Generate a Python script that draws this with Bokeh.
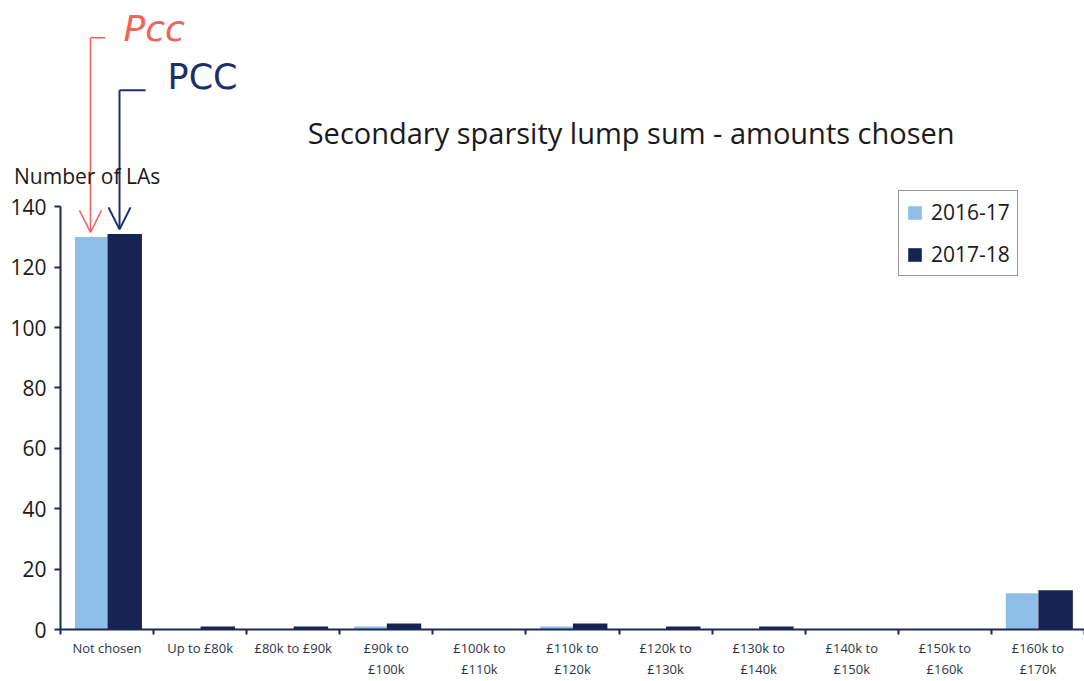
from bokeh.plotting import figure
from bokeh.models import Range1d, FixedTicker, Label, Arrow, OpenHead, ColumnDataSource, Div
from bokeh.layouts import column
from bokeh.transform import dodge
from bokeh.embed import file_html
from bokeh.resources import INLINE

categories = ["Not chosen", "Up to £80k", "£80k to £90k", "£90k to\n£100k", "£100k to\n£110k",
              "£110k to\n£120k", "£120k to\n£130k", "£130k to\n£140k", "£140k to\n£150k",
              "£150k to\n£160k", "£160k to\n£170k"]
v2016 = [130, 0, 0, 1, 0, 1, 0, 0, 0, 0, 12]
v2017 = [131, 1, 1, 2, 0, 2, 1, 1, 0, 0, 13]
y_ticks = [0, 20, 40, 60, 80, 100, 120, 140]
series_names = ["2016-17", "2017-18"]

LIGHT = "#8fbfe9"
DARK = "#172453"
NAVY = "#1b2757"
FONT = "Open Sans"
W, H = 1084, 681

xs = list(range(len(categories)))
src = ColumnDataSource(dict(x=xs, v2016=v2016, v2017=v2017))

p = figure(width=W, height=H, output_backend="svg", toolbar_location=None,
           x_range=Range1d(-0.5, len(categories) - 0.5), y_range=Range1d(0, 208.3),
           min_border_left=60, min_border_right=0, min_border_top=0, min_border_bottom=50)
p.outline_line_color = None
p.xgrid.visible = False
p.ygrid.visible = False
p.background_fill_color = "white"
p.border_fill_color = "white"

p.vbar(x=dodge("x", -0.17, range=p.x_range), top="v2016", width=0.35, source=src,
       fill_color=LIGHT, line_color=None, legend_label=series_names[0])
p.vbar(x=dodge("x", 0.19, range=p.x_range), top="v2017", width=0.37, source=src,
       fill_color=DARK, line_color=None, legend_label=series_names[1])

# y axis
ya = p.yaxis[0]
ya.ticker = FixedTicker(ticks=y_ticks)
ya.bounds = (0, max(y_ticks))
ya.axis_line_color = NAVY
ya.axis_line_width = 2
ya.major_tick_line_color = NAVY
ya.major_tick_line_width = 2
ya.major_tick_out = 6
ya.major_tick_in = 0
ya.minor_tick_line_color = None
ya.major_label_text_font = FONT
ya.major_label_text_font_size = "21px"
ya.major_label_text_color = "#1a1a1a"
ya.major_label_standoff = 8

# x axis
xa = p.xaxis[0]
xa.ticker = FixedTicker(ticks=xs, minor_ticks=[i - 0.5 for i in range(len(categories) + 1)])
xa.major_label_overrides = {i: c for i, c in zip(xs, categories)}
xa.axis_line_color = NAVY
xa.axis_line_width = 2
xa.major_tick_out = 0
xa.major_tick_in = 0
xa.major_tick_line_color = None
xa.minor_tick_out = 5
xa.minor_tick_in = 0
xa.minor_tick_line_color = NAVY
xa.minor_tick_line_width = 2
xa.major_label_text_font = FONT
xa.major_label_text_font_size = "13px"
xa.major_label_text_color = "#2c3545"
xa.major_label_standoff = 4

# legend
lg = p.legend[0]
lg.location = (838, 353)
lg.border_line_color = "#333333"
lg.border_line_width = 1.5
lg.label_text_font = FONT
lg.label_text_font_size = "21px"
lg.label_text_color = "#1a1a1a"
lg.glyph_width = 17
lg.glyph_height = 17
lg.label_height = 21
lg.spacing = 14
lg.padding = 7
lg.margin = 0
lg.label_standoff = 8
lg.background_fill_alpha = 1

# texts
p.add_layout(Label(x=5.63, y=164.6, text="Secondary sparsity lump sum - amounts chosen",
                   text_font=FONT, text_font_size="29px", text_color="#1a1a1a",
                   text_align="center", text_baseline="middle"))

# handwritten annotations
RED = "#f0645c"
BLUE = "#1d2f6b"
red_x, blue_x = -0.178, 0.134
p.segment(x0=[red_x], y0=[196], x1=[red_x + 0.16], y1=[196], line_color=RED, line_width=1.5)
p.add_layout(Arrow(end=OpenHead(size=22, line_color=RED, line_width=1.5), x_start=red_x, y_start=196,
                   x_end=red_x, y_end=v2016[0] + 1.5, line_color=RED, line_width=1.5))
p.segment(x0=[blue_x], y0=[178.6], x1=[blue_x + 0.28], y1=[178.6], line_color=BLUE, line_width=2)
p.add_layout(Arrow(end=OpenHead(size=22, line_color=BLUE, line_width=2), x_start=blue_x, y_start=178.6,
                   x_end=blue_x, y_end=v2017[0] + 1.5, line_color=BLUE, line_width=2))
p.add_layout(Label(x=0.177, y=199, text="Pcc", text_font="DejaVu Sans", text_font_style="italic",
                   text_font_size="36px", text_color=RED, text_align="left", text_baseline="middle"))
p.add_layout(Label(x=0.65, y=183, text="PCC", text_font="DejaVu Sans",
                   text_font_size="35px", text_color=BLUE, text_align="left", text_baseline="middle"))

# y-axis caption (sits partly left of the plot frame, so it is an overlaid text block)
ylab = Div(text="Number of LAs", width=175, height=28, margin=(-(H - 162), 0, 0, 14),
           styles={"font-family": FONT, "font-size": "21px", "color": "#1a1a1a",
                   "white-space": "nowrap", "position": "relative", "z-index": "10",
                   "line-height": "28px"})

layout = column(p, ylab, spacing=0)
open("out.html", "w").write(file_html(layout, INLINE))
